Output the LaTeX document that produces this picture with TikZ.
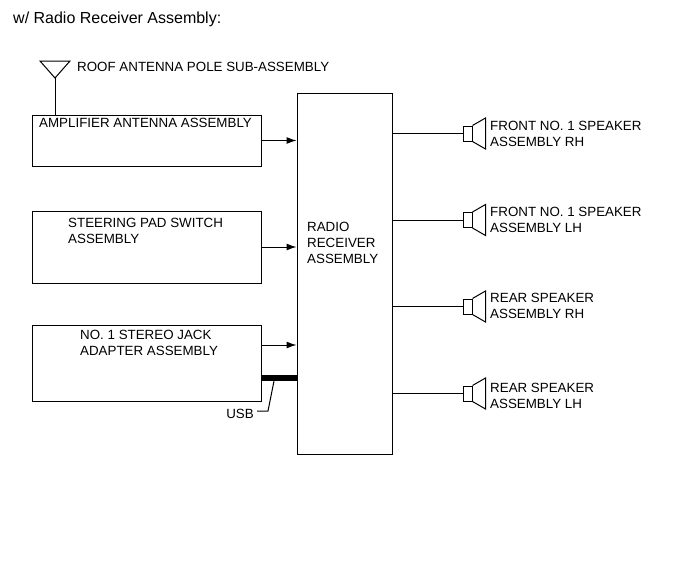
\documentclass[tikz,border=0pt]{standalone}
\usepackage{fontspec}
\setmainfont{Liberation Sans}
\usepackage{tikz}
\usetikzlibrary{arrows.meta,positioning}

\tikzset{
  box/.style={draw,line width=1pt,inner sep=0pt},
  lbl/.style={anchor=west,align=left,inner sep=0pt,yshift=-1pt,font=\fontsize{13.35}{16}\selectfont},
  wire/.style={line width=1pt},
  feed/.style={wire,-{Latex[length=10pt,width=7pt]}}
}

\begin{document}
\begin{tikzpicture}[x=1pt,y=-1pt]
            \useasboundingbox (0,0) rectangle (690,562);

            \node[lbl,font=\fontsize{16}{19}\selectfont] (title) at (13,18) {w/ Radio Receiver Assembly:};

            % input boxes
            \node[box,minimum width=229pt,minimum height=51pt] (amp) at (146.5,140.5) {};
            \node[box,minimum width=229pt,minimum height=72pt] (steer) at (146.5,247) {};
            \node[box,minimum width=229pt,minimum height=76pt] (jack) at (146.5,363) {};
            \node[lbl] (amplbl) at (39,122) {AMPLIFIER ANTENNA ASSEMBLY};
            \node[lbl] (steerlbl) at (68,230) {STEERING PAD SWITCH\\ASSEMBLY};
            \node[lbl] (jacklbl) at (80,342) {NO. 1 STEREO JACK\\ADAPTER ASSEMBLY};

            % radio receiver
            \node[box,minimum width=95pt,minimum height=361pt] (radio) at (344.5,273.5) {};
            \node[lbl] (radiolbl) at (307,242) {RADIO\\RECEIVER\\ASSEMBLY};

            % antenna
            \coordinate (anttip) at (55,78);
            \coordinate (antl) at (40,61);
            \coordinate (antr) at (70,61);
            \draw[wire] (antl) -- (antr) -- (anttip) -- cycle;
            \draw[wire] (anttip) -- (amp.north -| anttip);
            \node[lbl] (antlbl) at (77,66) {ROOF ANTENNA POLE SUB-ASSEMBLY};

            % inputs
            \draw[feed] (amp.east) -- (amp.east -| radio.west);
            \draw[feed] (steer.east) -- (steer.east -| radio.west);
            \coordinate (jackout) at (261,345);
            \draw[feed] (jackout) -- (jackout -| radio.west);

            % usb
            \coordinate (usbout) at (261,378);
            \draw[line width=6pt] (usbout) -- (usbout -| radio.west);
            \node[lbl,anchor=east] (usblbl) at (254,413) {USB};
            \coordinate (usbbend) at (268,411);
            \coordinate (usbtop) at (274,381);
            \draw[wire] (usbbend -| usblbl.east) ++(3,0) -- (usbbend) -- (usbtop);

            % speakers
            \foreach \name/\y/\ty/\one/\two in {a/133.5/133/FRONT NO. 1 SPEAKER/ASSEMBLY RH,
                                                b/220/219/FRONT NO. 1 SPEAKER/ASSEMBLY LH,
                                                c/306.5/305/REAR SPEAKER/ASSEMBLY RH,
                                                d/393.5/395/REAR SPEAKER/ASSEMBLY LH} {
              \node[draw,line width=1pt,inner sep=0pt,minimum width=9pt,minimum height=15pt] (spk\name) at (467.5,\y) {};
              \draw[wire] (spk\name.north east) -- ++(13,-7.5) -- ++(0,31) -- (spk\name.south east);
              \draw[wire] (radio.east |- spk\name.west) -- (spk\name.west);
              \node[lbl] (spklbl\name) at (490,\ty) {\one\\\two};
            }
          \end{tikzpicture}
\end{document}
